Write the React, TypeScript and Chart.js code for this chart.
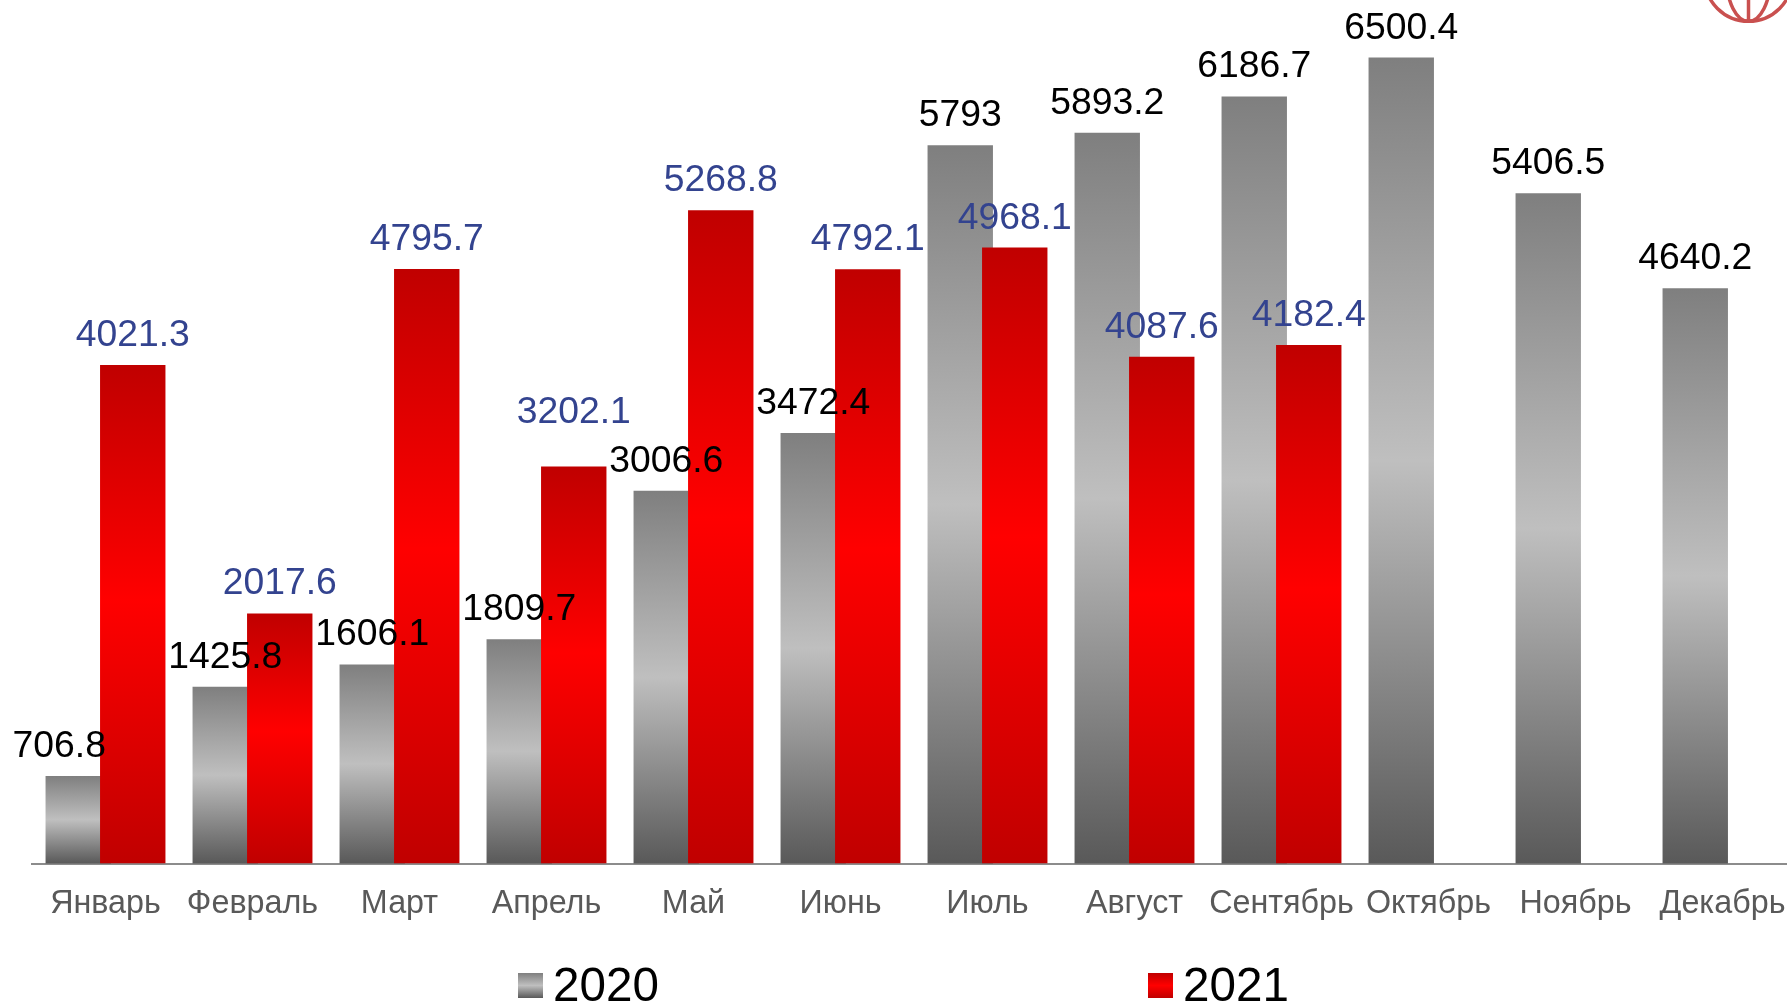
import React, { useEffect, useRef } from "react";
import { Chart, registerables } from "chart.js";

Chart.register(...registerables);

const categories = ["Январь", "Февраль", "Март", "Апрель", "Май", "Июнь", "Июль", "Август", "Сентябрь", "Октябрь", "Ноябрь", "Декабрь"];
const values2020 = [706.8, 1425.8, 1606.1, 1809.7, 3006.6, 3472.4, 5793, 5893.2, 6186.7, 6500.4, 5406.5, 4640.2];
const values2021 = [4021.3, 2017.6, 4795.7, 3202.1, 5268.8, 4792.1, 4968.1, 4087.6, 4182.4, null, null, null];
const label2020 = "2020";
const label2021 = "2021";
const grayStops = ["#7f7f7f", "#bfbfbf", "#595959"];
const redStops = ["#c00000", "#ff0000", "#c00000"];
const FONT = '"Liberation Sans", Arial, sans-serif';

function gradient(ctx: CanvasRenderingContext2D, top: number, bottom: number, stops: string[], mid: number) {
  const g = ctx.createLinearGradient(0, top, 0, bottom);
  g.addColorStop(0, stops[0]);
  g.addColorStop(mid, stops[1]);
  g.addColorStop(1, stops[2]);
  return g;
}

function barFill(stops: string[], mid: number) {
  return (c: any) => {
    const { chart, parsed } = c;
    const y = chart.scales.y;
    if (!y || !parsed || parsed.y == null) return stops[0];
    const top = y.getPixelForValue(parsed.y);
    const bottom = y.getPixelForValue(0);
    if (!Number.isFinite(top) || !Number.isFinite(bottom)) return stops[0];
    return gradient(chart.ctx, top, bottom, stops, mid);
  };
}

// The library paints the first dataset last; the 2021 bars must lie over the 2020 bars.
const paintOrder = {
  id: "paintOrder",
  beforeDatasetsDraw(chart: any) {
    chart.getDatasetMeta(0).controller.draw();
  },
  beforeDatasetDraw(_chart: any, args: any) {
    return args.index === 0 ? false : undefined;
  },
};

const valueLabels = {
  id: "valueLabels",
  afterDatasetsDraw(chart: any) {
    const ctx = chart.ctx;
    ctx.save();
    ctx.font = `37.3px ${FONT}`;
    ctx.textAlign = "center";
    ctx.textBaseline = "alphabetic";
    chart.data.datasets.forEach((ds: any, i: number) => {
      const meta = chart.getDatasetMeta(i);
      ctx.fillStyle = ds.labelColor;
      meta.data.forEach((el: any, j: number) => {
        const v = ds.data[j];
        if (v == null) return;
        // Two labels sit away from their bars in the source chart.
        const dx = i === 0 && j === 0 ? -19 : 0;
        const dy = i === 1 && j === 3 ? -25 : 0;
        ctx.fillText(String(v), el.x + dx, el.y - 19 + dy);
      });
    });
    ctx.restore();
  },
};

const customLegend = {
  id: "customLegend",
  afterDraw(chart: any) {
    const ctx = chart.ctx;
    const xs = [518, 1148];
    ctx.save();
    ctx.font = `47.6px ${FONT}`;
    ctx.textBaseline = "alphabetic";
    ctx.textAlign = "left";
    chart.data.datasets.forEach((ds: any, i: number) => {
      ctx.fillStyle = gradient(ctx, 973, 998, ds.stops, 0.5);
      ctx.fillRect(xs[i], 973, 25, 25);
      ctx.fillStyle = "#000000";
      ctx.fillText(ds.label, xs[i] + 35, 1001);
    });
    ctx.restore();
  },
};

const globe = {
  id: "globe",
  afterDraw(chart: any) {
    const ctx = chart.ctx;
    const cx = 1748.5;
    const cy = -22.7;
    ctx.save();
    ctx.strokeStyle = "#c9504f";
    ctx.lineWidth = 3.5;
    ctx.beginPath();
    ctx.arc(cx, cy, 44, 0, Math.PI);
    ctx.stroke();
    ctx.beginPath();
    ctx.ellipse(cx, cy, 22, 44, 0, 0, Math.PI);
    ctx.stroke();
    ctx.beginPath();
    ctx.moveTo(cx, 0);
    ctx.lineTo(cx, 21);
    ctx.stroke();
    ctx.restore();
  },
};

export default function App() {
  const ref = useRef<HTMLCanvasElement>(null);
  useEffect(() => {
    document.body.style.margin = "0";
    document.body.style.background = "#ffffff";
    document.body.style.overflow = "hidden";
    const chart = new Chart(ref.current!, {
      type: "bar",
      data: {
        labels: categories,
        datasets: [
          {
            label: label2020,
            data: values2020,
            backgroundColor: barFill(grayStops, 0.5),
            stops: grayStops,
            labelColor: "#000000",
          } as any,
          {
            label: label2021,
            data: values2021,
            backgroundColor: barFill(redStops, 0.47),
            stops: redStops,
            labelColor: "#33438f",
          } as any,
        ],
      },
      options: {
        animation: false,
        responsive: false,
        layout: { padding: { left: 32, right: 4, top: 8, bottom: 66.7 } },
        datasets: { bar: { categoryPercentage: 0.7415, barPercentage: 1.2 } },
        plugins: { legend: { display: false }, tooltip: { enabled: false } },
        scales: {
          x: {
            grid: { display: false },
            border: { display: true, color: "#8c8c8c", width: 2 },
            ticks: {
              color: "#595959",
              font: { family: FONT, size: 32.3 },
              maxRotation: 0,
              minRotation: 0,
              autoSkip: false,
              padding: 13,
            },
          },
          y: { display: false, min: 0, max: 6900 },
        },
      },
      plugins: [paintOrder, valueLabels, customLegend, globe],
    } as any);
    return () => chart.destroy();
  }, []);
  return (
    <div style={{ width: 1787, height: 1003, overflow: "hidden", position: "relative" }}>
      <canvas ref={ref} width={1800} height={1003} style={{ display: "block" }} />
    </div>
  );
}
